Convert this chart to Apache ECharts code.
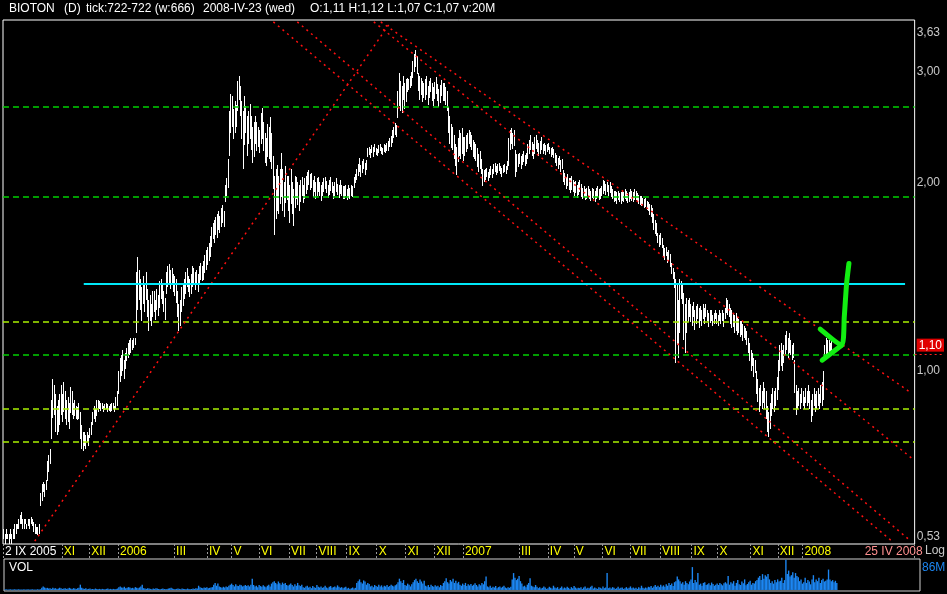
<!DOCTYPE html>
<html><head><meta charset="utf-8">
<script src="https://cdn.jsdelivr.net/npm/echarts/dist/echarts.min.js"></script>
<style>html,body{margin:0;padding:0;background:#000;}#c{width:947px;height:594px;}</style>
</head><body><div id="c"></div>
<script>
// ---- daily bars (trading-day index 0 = 2 IX 2005) ----
const low = [
/*0*/ 0.54,0.53,0.54,0.54,0.53,0.54,0.53,0.54,0.54,0.55,0.56,0.56,
/*12*/ 0.57,0.57,0.56,
/*15*/ 0.56,0.57,0.56,0.565,0.56,0.57,0.565,
/*22*/ 0.555,0.55,0.55,0.548,0.55,
/*27*/ 0.61,0.62,0.64,0.63,0.645,
/*32*/ 0.67,0.69,0.71,
/*35*/ 0.78,0.84,0.85,0.80,
/*39*/ 0.79,0.80,0.82,
/*42*/ 0.85,0.83,0.86,0.84,
/*46*/ 0.82,0.83,0.81,0.86,0.85,
/*51*/ 0.84,0.85,0.84,0.835,0.84,
/*56*/ 0.78,0.75,0.745,
/*59*/ 0.76,0.75,0.77,0.76,0.78,0.79,
/*65*/ 0.82,0.84,0.83,0.85,0.86,0.87,
/*71*/ 0.865,0.87,0.86,0.865,0.87,0.86,0.865,0.86,0.865,0.87,0.86,
/*82*/ 0.87,0.88,
/*84*/ 0.92,0.96,
/*86*/ 0.98,1.00,0.97,1.01,
/*90*/ 1.04,1.05,1.06,1.07,1.08,
/*95*/ 1.09,1.10,
/*97*/ 1.15,1.25,
/*99*/ 1.30,1.25,1.20,1.28,1.24,1.30,
/*105*/ 1.22,1.16,1.20,1.18,1.22,
/*110*/ 1.24,1.21,1.25,1.22,
/*114*/ 1.26,1.30,1.28,1.24,1.21,
/*119*/ 1.33,1.36,1.38,1.35,1.37,1.34,1.32,
/*126*/ 1.28,1.22,1.16,1.18,1.24,1.27,
/*132*/ 1.30,1.33,1.36,1.34,1.31,1.33,1.36,1.38,1.35,1.37,1.34,1.38,1.40,1.39,
/*146*/ 1.40,1.43,1.45,1.48,1.50,1.52,
/*152*/ 1.58,1.62,1.60,1.65,1.63,1.68,1.66,1.70,1.72,1.70,
/*162*/ 1.86,1.90,1.96,
/*165*/ 2.20,2.40,2.45,2.35,2.40,
/*170*/ 2.45,2.60,2.70,2.55,
/*174*/ 2.35,2.10,2.30,2.40,2.20,
/*179*/ 2.30,2.35,2.25,2.15,2.20,2.30,2.25,2.28,2.22,2.30,2.35,2.25,2.15,2.12,2.20,2.18,
/*195*/ 2.15,2.10,1.95,
/*198*/ 1.65,1.75,1.80,1.78,1.85,
/*203*/ 1.90,1.80,1.76,1.85,1.88,
/*208*/ 1.80,1.72,1.85,1.78,1.70,1.82,
/*214*/ 1.88,1.84,1.80,1.86,1.90,1.85,1.88,
/*221*/ 1.92,1.95,1.98,1.94,1.96,1.90,1.93,1.88,1.90,1.93,1.90,1.87,
/*233*/ 1.90,1.93,1.95,1.92,1.89,1.91,1.94,1.92,1.88,1.90,1.93,1.91,1.89,1.92,1.90,1.88,
/*249*/ 1.88,1.90,1.87,1.89,1.88,1.90,1.89,
/*256*/ 1.96,1.99,
/*258*/ 2.02,2.05,2.08,2.04,2.07,2.10,2.06,2.09,
/*266*/ 2.20,2.21,2.19,2.22,2.20,2.23,2.21,2.20,2.22,2.24,2.22,2.21,2.23,2.22,2.24,2.25,2.27,2.28,
/*284*/ 2.31,2.35,2.38,2.36,
/*288*/ 2.54,2.65,2.60,2.58,2.70,2.62,2.68,
/*295*/ 2.78,2.80,2.82,2.85,
/*299*/ 2.93,3.00,3.05,2.98,
/*303*/ 2.80,2.70,2.75,2.68,2.73,
/*308*/ 2.70,2.75,2.66,2.72,2.78,2.70,2.65,2.72,2.76,2.70,2.64,2.68,2.74,2.70,
/*322*/ 2.70,2.66,2.60,
/*325*/ 2.40,2.30,2.27,
/*328*/ 2.25,2.18,2.12,2.06,2.15,2.20,2.18,2.22,2.16,
/*337*/ 2.20,2.24,2.26,2.30,2.28,2.25,2.20,2.18,2.16,
/*346*/ 2.12,2.08,2.10,2.06,1.97,
/*351*/ 2.00,2.02,2.04,2.01,2.03,2.05,2.03,
/*358*/ 2.06,2.08,2.05,2.07,2.09,2.06,2.04,2.07,2.08,2.06,2.09,
/*369*/ 2.12,2.25,
/*371*/ 2.30,2.26,2.28,
/*374*/ 2.04,2.08,
/*376*/ 2.12,2.14,2.10,2.13,2.15,2.12,2.14,
/*383*/ 2.18,2.22,2.25,2.20,2.18,2.22,2.26,2.24,2.20,2.22,2.25,
/*394*/ 2.22,2.24,2.21,2.23,2.25,2.22,2.20,2.21,2.19,
/*403*/ 2.15,2.12,2.10,2.13,2.08,2.10,
/*409*/ 2.00,1.98,1.95,1.97,1.94,
/*414*/ 1.92,1.95,1.93,1.90,1.92,1.89,1.91,1.93,1.90,
/*423*/ 1.88,1.89,1.87,1.88,1.90,1.88,1.87,1.89,1.88,1.86,1.88,1.89,1.87,1.88,1.90,
/*438*/ 1.92,1.94,1.91,1.93,1.90,1.92,1.89,
/*445*/ 1.88,1.86,1.87,1.85,1.88,1.86,1.85,1.87,1.86,1.88,1.87,1.85,1.86,1.88,1.87,1.86,1.87,1.88,1.86,1.85,1.84,1.83,
/*467*/ 1.84,1.82,1.83,1.81,1.80,1.78,1.76,
/*474*/ 1.72,1.68,1.65,1.64,
/*478*/ 1.60,1.58,1.59,1.57,
/*482*/ 1.52,1.50,1.53,1.49,1.50,1.47,
/*488*/ 1.43,1.40,1.36,
/*491*/ 1.03,
/*492*/ 1.10,1.05,1.15,1.30,1.28,1.12,
/*498*/ 1.07,1.15,1.20,1.22,
/*502*/ 1.20,1.18,1.22,1.16,1.19,1.21,1.17,1.20,1.18,1.21,1.19,1.22,
/*514*/ 1.20,1.18,1.19,1.20,1.18,1.19,1.21,1.19,1.18,1.20,1.19,1.20,1.18,1.21,
/*528*/ 1.24,1.23,1.22,
/*531*/ 1.19,1.17,1.18,1.15,1.16,1.14,1.15,1.13,1.14,1.12,1.13,1.12,1.10,
/*544*/ 1.07,1.04,1.00,1.02,0.98,0.99,
/*550*/ 0.92,0.89,0.86,0.88,0.87,0.89,0.87,
/*557*/ 0.84,0.80,0.785,0.81,
/*561*/ 0.85,0.87,0.86,0.88,0.90,
/*566*/ 0.93,1.00,1.02,1.00,1.03,
/*571*/ 1.06,1.08,1.05,1.07,1.06,1.04,1.05,
/*578*/ 0.92,0.85,
/*580*/ 0.87,0.88,0.87,0.89,0.88,0.87,0.89,0.88,
/*588*/ 0.89,0.87,0.83,0.85,0.88,0.86,
/*594*/ 0.87,0.88,0.87,0.89,0.88,0.90,
/*600*/ 1.04,1.06,1.05,1.07,1.06,1.07
];
const high = [
/*0*/ 0.56,0.55,0.56,0.55,0.55,0.56,0.55,0.56,0.57,0.57,0.57,0.58,
/*12*/ 0.59,0.595,0.58,
/*15*/ 0.58,0.58,0.57,0.58,0.58,0.585,0.58,
/*22*/ 0.575,0.57,0.565,0.565,0.57,
/*27*/ 0.64,0.66,0.665,0.66,0.67,
/*32*/ 0.72,0.735,0.75,
/*35*/ 0.90,0.97,0.95,0.92,
/*39*/ 0.88,0.90,0.92,
/*42*/ 0.95,0.92,0.96,0.93,
/*46*/ 0.90,0.91,0.89,0.945,0.93,
/*51*/ 0.89,0.90,0.88,0.875,0.89,
/*56*/ 0.86,0.82,0.80,
/*59*/ 0.80,0.79,0.80,0.79,0.81,0.83,
/*65*/ 0.86,0.88,0.87,0.90,0.90,0.895,
/*71*/ 0.89,0.89,0.88,0.885,0.89,0.885,0.88,0.885,0.89,0.89,0.88,
/*82*/ 0.91,0.93,
/*84*/ 1.00,1.05,
/*86*/ 1.06,1.08,1.04,1.07,
/*90*/ 1.09,1.11,1.12,1.13,1.12,
/*95*/ 1.13,1.13,
/*97*/ 1.44,1.52,
/*99*/ 1.45,1.40,1.36,1.42,1.38,1.44,
/*105*/ 1.35,1.30,1.32,1.28,1.34,
/*110*/ 1.34,1.30,1.35,1.32,
/*114*/ 1.39,1.40,1.37,1.34,1.31,
/*119*/ 1.44,1.47,1.48,1.45,1.46,1.43,1.42,
/*126*/ 1.40,1.34,1.28,1.30,1.36,1.38,
/*132*/ 1.40,1.44,1.46,1.42,1.40,1.43,1.47,1.46,1.44,1.45,1.43,1.47,1.49,1.47,
/*146*/ 1.50,1.53,1.56,1.58,1.60,1.64,
/*152*/ 1.70,1.72,1.74,1.76,1.78,1.80,1.77,1.82,1.84,1.80,
/*162*/ 1.98,2.03,2.18,
/*165*/ 2.60,2.77,2.75,2.62,2.70,
/*170*/ 2.66,2.90,2.95,2.85,
/*174*/ 2.70,2.60,2.75,2.65,2.55,
/*179*/ 2.60,2.67,2.55,2.45,2.50,2.55,2.50,2.45,2.42,2.58,2.63,2.50,2.40,2.35,2.48,2.45,
/*195*/ 2.54,2.40,2.20,
/*198*/ 2.05,2.10,2.13,2.05,2.10,
/*203*/ 2.23,2.10,2.00,2.12,2.05,
/*208*/ 2.05,1.98,2.10,2.00,1.95,2.05,
/*214*/ 2.04,2.00,1.98,2.02,2.04,1.98,2.03,
/*221*/ 2.05,2.08,2.09,2.06,2.07,2.02,2.05,2.00,2.03,2.04,2.00,1.98,
/*233*/ 2.00,2.03,2.04,2.01,1.98,2.02,2.04,2.00,1.97,2.00,2.03,1.99,1.98,2.02,1.98,1.97,
/*249*/ 1.97,1.98,1.95,1.98,1.96,1.98,1.97,
/*256*/ 2.04,2.06,
/*258*/ 2.10,2.14,2.19,2.13,2.16,2.18,2.15,2.17,
/*266*/ 2.27,2.28,2.26,2.29,2.28,2.30,2.27,2.26,2.29,2.30,2.28,2.27,2.30,2.29,2.31,2.33,2.35,2.37,
/*284*/ 2.42,2.45,2.49,2.47,
/*288*/ 2.80,2.99,2.90,2.85,2.95,2.88,2.92,
/*295*/ 2.93,2.92,2.95,3.00,
/*299*/ 3.12,3.20,3.25,3.18,
/*303*/ 2.99,2.95,2.93,2.90,2.88,
/*308*/ 2.92,2.95,2.85,2.90,2.93,2.88,2.84,2.89,2.94,2.87,2.82,2.86,2.91,2.88,
/*322*/ 2.88,2.84,2.80,
/*325*/ 2.64,2.55,2.48,
/*328*/ 2.45,2.38,2.30,2.28,2.35,2.42,2.40,2.44,2.36,
/*337*/ 2.36,2.38,2.40,2.42,2.41,2.38,2.34,2.32,2.30,
/*346*/ 2.27,2.22,2.24,2.18,2.10,
/*351*/ 2.09,2.10,2.11,2.08,2.10,2.12,2.10,
/*358*/ 2.14,2.15,2.12,2.14,2.15,2.12,2.11,2.13,2.14,2.12,2.16,
/*369*/ 2.35,2.42,
/*371*/ 2.44,2.40,2.42,
/*374*/ 2.25,2.22,
/*376*/ 2.22,2.23,2.20,2.22,2.24,2.21,2.23,
/*383*/ 2.30,2.34,2.38,2.32,2.30,2.36,2.38,2.34,2.31,2.33,2.36,
/*394*/ 2.30,2.31,2.29,2.30,2.31,2.28,2.27,2.28,2.26,
/*403*/ 2.23,2.21,2.19,2.20,2.17,2.18,
/*409*/ 2.09,2.07,2.04,2.06,2.03,
/*414*/ 2.03,2.05,2.02,2.00,2.01,1.98,2.00,2.02,1.99,
/*423*/ 1.96,1.97,1.95,1.96,1.97,1.95,1.94,1.96,1.95,1.94,1.96,1.97,1.95,1.96,1.97,
/*438*/ 2.02,2.01,1.99,2.00,1.98,2.00,1.97,
/*445*/ 1.95,1.94,1.94,1.93,1.94,1.92,1.93,1.94,1.93,1.95,1.94,1.92,1.93,1.95,1.94,1.93,1.95,1.94,1.92,1.91,1.90,1.90,
/*467*/ 1.89,1.88,1.89,1.87,1.86,1.85,1.84,
/*474*/ 1.82,1.78,1.74,1.72,
/*478*/ 1.66,1.65,1.66,1.63,
/*482*/ 1.59,1.57,1.58,1.55,1.56,1.54,
/*488*/ 1.49,1.46,1.44,
/*491*/ 1.40,
/*492*/ 1.38,1.30,1.40,1.39,1.37,1.33,
/*498*/ 1.28,1.31,1.30,1.31,
/*502*/ 1.28,1.27,1.29,1.25,1.27,1.28,1.26,1.27,1.25,1.28,1.26,1.28,
/*514*/ 1.25,1.24,1.25,1.25,1.23,1.24,1.25,1.24,1.23,1.25,1.24,1.25,1.24,1.26,
/*528*/ 1.31,1.30,1.28,
/*531*/ 1.26,1.25,1.24,1.23,1.24,1.22,1.21,1.20,1.20,1.19,1.18,1.17,1.16,
/*544*/ 1.13,1.11,1.08,1.07,1.05,1.04,
/*550*/ 1.00,0.97,0.94,0.95,0.93,0.96,0.94,
/*557*/ 0.93,0.88,0.86,0.89,
/*561*/ 0.92,0.94,0.93,0.94,0.98,
/*566*/ 1.04,1.10,1.11,1.08,1.10,
/*571*/ 1.14,1.16,1.13,1.15,1.12,1.10,1.11,
/*578*/ 1.04,0.95,
/*580*/ 0.93,0.94,0.92,0.94,0.93,0.91,0.94,0.93,
/*588*/ 0.95,0.93,0.90,0.92,0.94,0.92,
/*594*/ 0.93,0.94,0.92,0.95,0.96,1.00,
/*600*/ 1.10,1.13,1.12,1.12,1.11,1.12
];
// volume, millions
const volume = [
/*0*/ 1,2,1,1,2,1,1,2,1,1,2,1,1,1,2,1,1,2,1,1,2,1,1,1,2,1,2,
/*27*/ 6,10,7,5,6,
/*32*/ 4,5,3,6,4,5,3,4,6,5,3,4,5,3,4,6,4,3,5,4,3,5,6,15,
/*56*/ 6,4,3,5,2,3,4,2,3,2,4,3,2,3,2,3,2,2,3,4,2,3,2,3,2,3,4,
/*83*/ 8,10,7,6,9,5,6,8,7,
/*92*/ 5,6,4,8,6,5,7,10,15,
/*101*/ 5,4,3,5,4,3,2,4,3,5,4,3,2,3,4,3,2,3,4,5,6,4,3,2,3,4,3,2,4,3,3,2,4,3,2,3,4,3,5,4,
/*141*/ 12,8,6,
/*144*/ 5,7,6,8,5,6,7,8,
/*152*/ 15,20,12,18,10,
/*157*/ 8,6,9,7,10,8,
/*163*/ 12,15,18,14,10,16,12,11,15,13,
/*173*/ 10,12,14,11,13,10,
/*179*/ 15,32,14,
/*182*/ 10,12,8,14,11,9,13,10,8,12,15,10,
/*194*/ 18,22,25,20,16,24,19,15,21,17,20,14,
/*206*/ 12,15,18,14,10,16,12,20,13,11,15,
/*217*/ 8,6,10,12,7,9,5,11,8,6,14,9,7,10,6,8,12,7,5,9,11,6,8,10,7,13,9,6,8,5,7,9,
/*249*/ 4,6,3,5,7,4,6,
/*256*/ 20,25,30,22,18,27,24,15,20,17,
/*266*/ 10,12,8,14,11,9,15,10,13,8,12,10,14,9,11,15,12,10,13,16,
/*286*/ 22,32,25,20,28,
/*291*/ 14,12,18,15,10,16,
/*297*/ 22,28,32,25,20,30,24,18,26,
/*306*/ 12,10,14,8,15,11,9,13,10,12,8,14,11,
/*319*/ 20,25,33,22,18,28,24,32,20,26,19,23,
/*331*/ 15,12,18,14,20,11,16,13,17,12,15,19,14,10,16,
/*346*/ 13,20,16,25,38,
/*351*/ 10,8,12,6,9,7,11,5,8,10,6,9,12,7,5,8,6,9,
/*369*/ 30,48,35,28,32,
/*374*/ 40,25,18,
/*377*/ 10,12,8,15,20,33,12,10,8,14,9,
/*388*/ 5,8,4,6,10,7,3,5,9,6,4,12,7,5,8,3,6,10,4,7,5,9,6,3,8,5,11,7,4,6,5,8,3,7,10,4,6,5,9,12,4,7,5,3,8,6,4,10,5,7,
/*438*/ 48,
/*439*/ 5,7,4,8,6,3,5,9,4,6,7,3,5,8,4,6,10,5,7,4,6,3,8,5,12,6,4,7,5,9,8,11,6,10,14,9,12,8,15,10,13,9,16,12,20,14,18,11,22,25,
/*489*/ 38,30,25,
/*492*/ 18,22,15,25,20,16,24,30,
/*500*/ 65,
/*501*/ 20,28,22,
/*504*/ 48,
/*505*/ 15,18,12,20,22,14,16,19,13,21,17,12,15,18,14,20,16,13,19,22,18,
/*526*/ 40,
/*527*/ 15,22,18,25,12,20,28,16,14,24,19,30,13,17,22,26,15,20,18,25,28,
/*548*/ 35,40,28,45,32,42,38,45,30,
/*557*/ 20,25,18,28,22,30,24,26,35,20,28,
/*568*/ 86,
/*569*/ 45,55,38,42,50,35,48,40,36,
/*578*/ 25,30,18,22,35,20,28,24,16,30,
/*588*/ 42,
/*589*/ 22,30,25,35,20,28,32,24,26,30,
/*599*/ 58,
/*600*/ 30,25,28,22,26,20
];
const windowBars = 666;
const monthIdx = [0,43,63,84,125,149,167,187,209,229,251,273,294,315,336,377,398,417,438,458,480,503,522,546,566,584];
const monthLbl = ['2 IX 2005','XI','XII','2006','III','IV','V','VI','VII','VIII','IX','X','XI','XII','2007','III','IV','V','VI','VII','VIII','IX','X','XI','XII','2008'];
const endIdx = 628, endLbl = '25 IV 2008';
const yLabelVals = [0.53, 1.00, 1.10, 2.00, 3.00, 3.63];
const yLabelTxt  = ['0,53','1,00','1,10','2,00','3,00','3,63'];
const levelsGreen = [2.647, 1.888, 1.057];
const levelsLime  = [1.197, 0.870, 0.773];
const resistance = {from: 59, to: 659, price: 1.377};
const trendLines = [
  [[23.2,0.5355],[283.2,3.605]],
  [[276.0,3.605],[663.8,0.922]],
  [[270.9,3.605],[663.8,0.7265]],
  [[215.0,3.605],[662.4,0.5375]],
  [[197.5,3.605],[648.6,0.5375]]
];
const arrowPath = [[597.0,1.167],[612.7,1.100],[614.6,1.221],[616.3,1.380],[618.0,1.485]];
const arrowArm  = [[598.4,1.041],[612.7,1.100]];
const lastPrice = 1.065;

const L = Math.log;
const n = Math.min(low.length, high.length);
const barData = [];
for (let i = 0; i < n; i++) barData.push([i + 0.5, L(low[i]), L(high[i])]);
const volData = volume.map((v, i) => [i + 0.5, v]);

const FONT = 'Liberation Sans';
const chart = echarts.init(document.getElementById('c'), null, {renderer: 'canvas'});

function yFmt(v) {
  let b = 0, bd = 1e9;
  yLabelVals.forEach((p, i) => { const d = Math.abs(L(p) - v); if (d < bd) { bd = d; b = i; } });
  const t = yLabelTxt[b];
  if (b === yLabelVals.length - 1) return '{top|' + t + '}';
  if (b === 0) return '{bot|' + t + '}';
  if (yLabelVals[b] === 1.10) return '{cur|' + t + '}';
  return '{n|' + t + '}';
}
function xFmt(v) {
  const r = Math.round(v);
  if (r === endIdx) return '{p|' + endLbl + '}';
  const i = monthIdx.indexOf(r);
  if (i < 0) return '';
  return (i === 0 ? '{w|' : '{y|') + monthLbl[i] + '}';
}

const redLine = {color: '#ff1010', type: [2, 4], width: 1.5};
const markData = [];
levelsGreen.forEach(v => markData.push({yAxis: L(v), lineStyle: {color: '#00d000', type: [6, 4], width: 1.5}}));
levelsLime.forEach(v => markData.push({yAxis: L(v), lineStyle: {color: '#a8f000', type: [6, 4], width: 1.5}}));
trendLines.forEach(t => markData.push([{coord: [t[0][0], L(t[0][1])], lineStyle: redLine}, {coord: [t[1][0], L(t[1][1])]}]));
markData.push([{coord: [resistance.from, L(resistance.price)], lineStyle: {color: '#00e8f8', type: 'solid', width: 2}}, {coord: [resistance.to, L(resistance.price)]}]);

chart.setOption({
  backgroundColor: '#000',
  animation: false,
  textStyle: {fontFamily: FONT},
  grid: [
    {left: 3, right: 27, top: 20, height: 524, show: true, borderColor: '#ffffff', borderWidth: 1, backgroundColor: 'transparent'},
    {left: 4, right: 27, top: 559, height: 32, show: true, borderColor: '#d0d0d0', borderWidth: 1, backgroundColor: 'transparent'}
  ],
  xAxis: [
    {type: 'value', gridIndex: 0, min: 0, max: windowBars, position: 'bottom',
     axisLine: {show: false, onZero: false}, splitLine: {show: false},
     axisTick: {show: true, customValues: monthIdx.concat([windowBars]), length: 14, lineStyle: {color: '#9a9a9a', type: [2, 2], width: 1}},
     axisLabel: {show: true, customValues: monthIdx.concat([endIdx]), formatter: xFmt, margin: 2, align: 'left', padding: [0, 0, 0, 2],
       rich: {w: {color: '#ffffff', fontSize: 12, fontFamily: FONT}, y: {color: '#ffff00', fontSize: 12, fontFamily: FONT}, p: {color: '#ff9090', fontSize: 12, fontFamily: FONT}}}},
    {type: 'value', gridIndex: 1, min: 0, max: windowBars, show: false, splitLine: {show: false}, axisLine: {onZero: false}}
  ],
  yAxis: [
    {type: 'value', gridIndex: 0, position: 'right', min: L(0.53), max: L(3.63),
     axisLine: {show: false, onZero: false}, splitLine: {show: false},
     axisTick: {show: true, customValues: [L(lastPrice)], length: 27, lineStyle: {color: '#ff2020', type: [2, 3], width: 1}},
     axisLabel: {show: true, customValues: yLabelVals.map(L), formatter: yFmt, margin: 2,
       rich: {
         n: {color: '#c8c8c8', fontSize: 12, fontFamily: FONT},
         top: {color: '#c8c8c8', fontSize: 12, fontFamily: FONT, padding: [26, 0, 0, 0]},
         bot: {color: '#c8c8c8', fontSize: 12, fontFamily: FONT, padding: [0, 0, 14, 0]},
         cur: {color: '#ffffff', fontSize: 12, fontFamily: FONT, backgroundColor: '#e00000', padding: [1, 2, 0, 2]}
       }}},
    {type: 'value', gridIndex: 1, min: -3, max: 88, show: false, splitLine: {show: false}, axisLine: {onZero: false}}
  ],
  series: [
    {type: 'custom', xAxisIndex: 0, yAxisIndex: 0, data: barData, encode: {x: 0, y: [1, 2]}, z: 2,
     renderItem: function (params, api) {
       const x = api.value(0);
       const p1 = api.coord([x, api.value(2)]);
       const p2 = api.coord([x, api.value(1)]);
       return {type: 'rect', shape: {x: Math.round(p1[0] - 0.5), y: Math.round(p1[1]), width: 1, height: Math.max(1, Math.round(p2[1] - p1[1]))}, style: {fill: '#ffffff'}};
     }},
    {type: 'custom', xAxisIndex: 1, yAxisIndex: 1, data: volData, encode: {x: 0, y: 1}, z: 2,
     renderItem: function (params, api) {
       const x = api.value(0);
       const p1 = api.coord([x, api.value(1)]);
       const p0 = api.coord([x, 0]);
       return {type: 'rect', shape: {x: p1[0] - 0.69, y: p1[1], width: 1.38, height: Math.max(0.6, p0[1] - p1[1])}, style: {fill: '#1c86f2'}};
     }},
    {type: 'line', xAxisIndex: 0, yAxisIndex: 0, data: arrowPath.map(p => [p[0], L(p[1])]), z: 6,
     symbol: 'none', smooth: 0.2, lineStyle: {color: '#12ee12', width: 5, cap: 'round', join: 'round'},
     markLine: {silent: true, symbol: ['none', 'none'], label: {show: false}, z: 4, animation: false, data: markData}},
    {type: 'line', xAxisIndex: 0, yAxisIndex: 0, data: arrowArm.map(p => [p[0], L(p[1])]), z: 6,
     symbol: 'none', lineStyle: {color: '#12ee12', width: 5, cap: 'round', join: 'round'}}
  ],
  graphic: [
    {type: 'text', left: 9, top: 3, style: {text: 'BIOTON', fill: '#ffffff', font: '12px "Liberation Sans"'}},
    {type: 'text', left: 64, top: 3, style: {text: '(D)', fill: '#ffffff', font: '12px "Liberation Sans"'}},
    {type: 'text', left: 86, top: 3, style: {text: 'tick:722-722 (w:666)', fill: '#ffffff', font: '12px "Liberation Sans"'}},
    {type: 'text', left: 203, top: 3, style: {text: '2008-IV-23 (wed)', fill: '#ffffff', font: '12px "Liberation Sans"'}},
    {type: 'text', left: 310, top: 3, style: {text: 'O:1,11 H:1,12 L:1,07 C:1,07 v:20M', fill: '#ffffff', font: '12px "Liberation Sans"'}},
    {type: 'text', left: 925, top: 545, style: {text: 'Log', fill: '#c8c8c8', font: '12px "Liberation Sans"'}},
    {type: 'text', left: 9, top: 562, style: {text: 'VOL', fill: '#ffffff', font: '12px "Liberation Sans"'}},
    {type: 'text', left: 922, top: 562, style: {text: '86M', fill: '#1c86f2', font: '12px "Liberation Sans"'}}
  ]
});
</script></body></html>
